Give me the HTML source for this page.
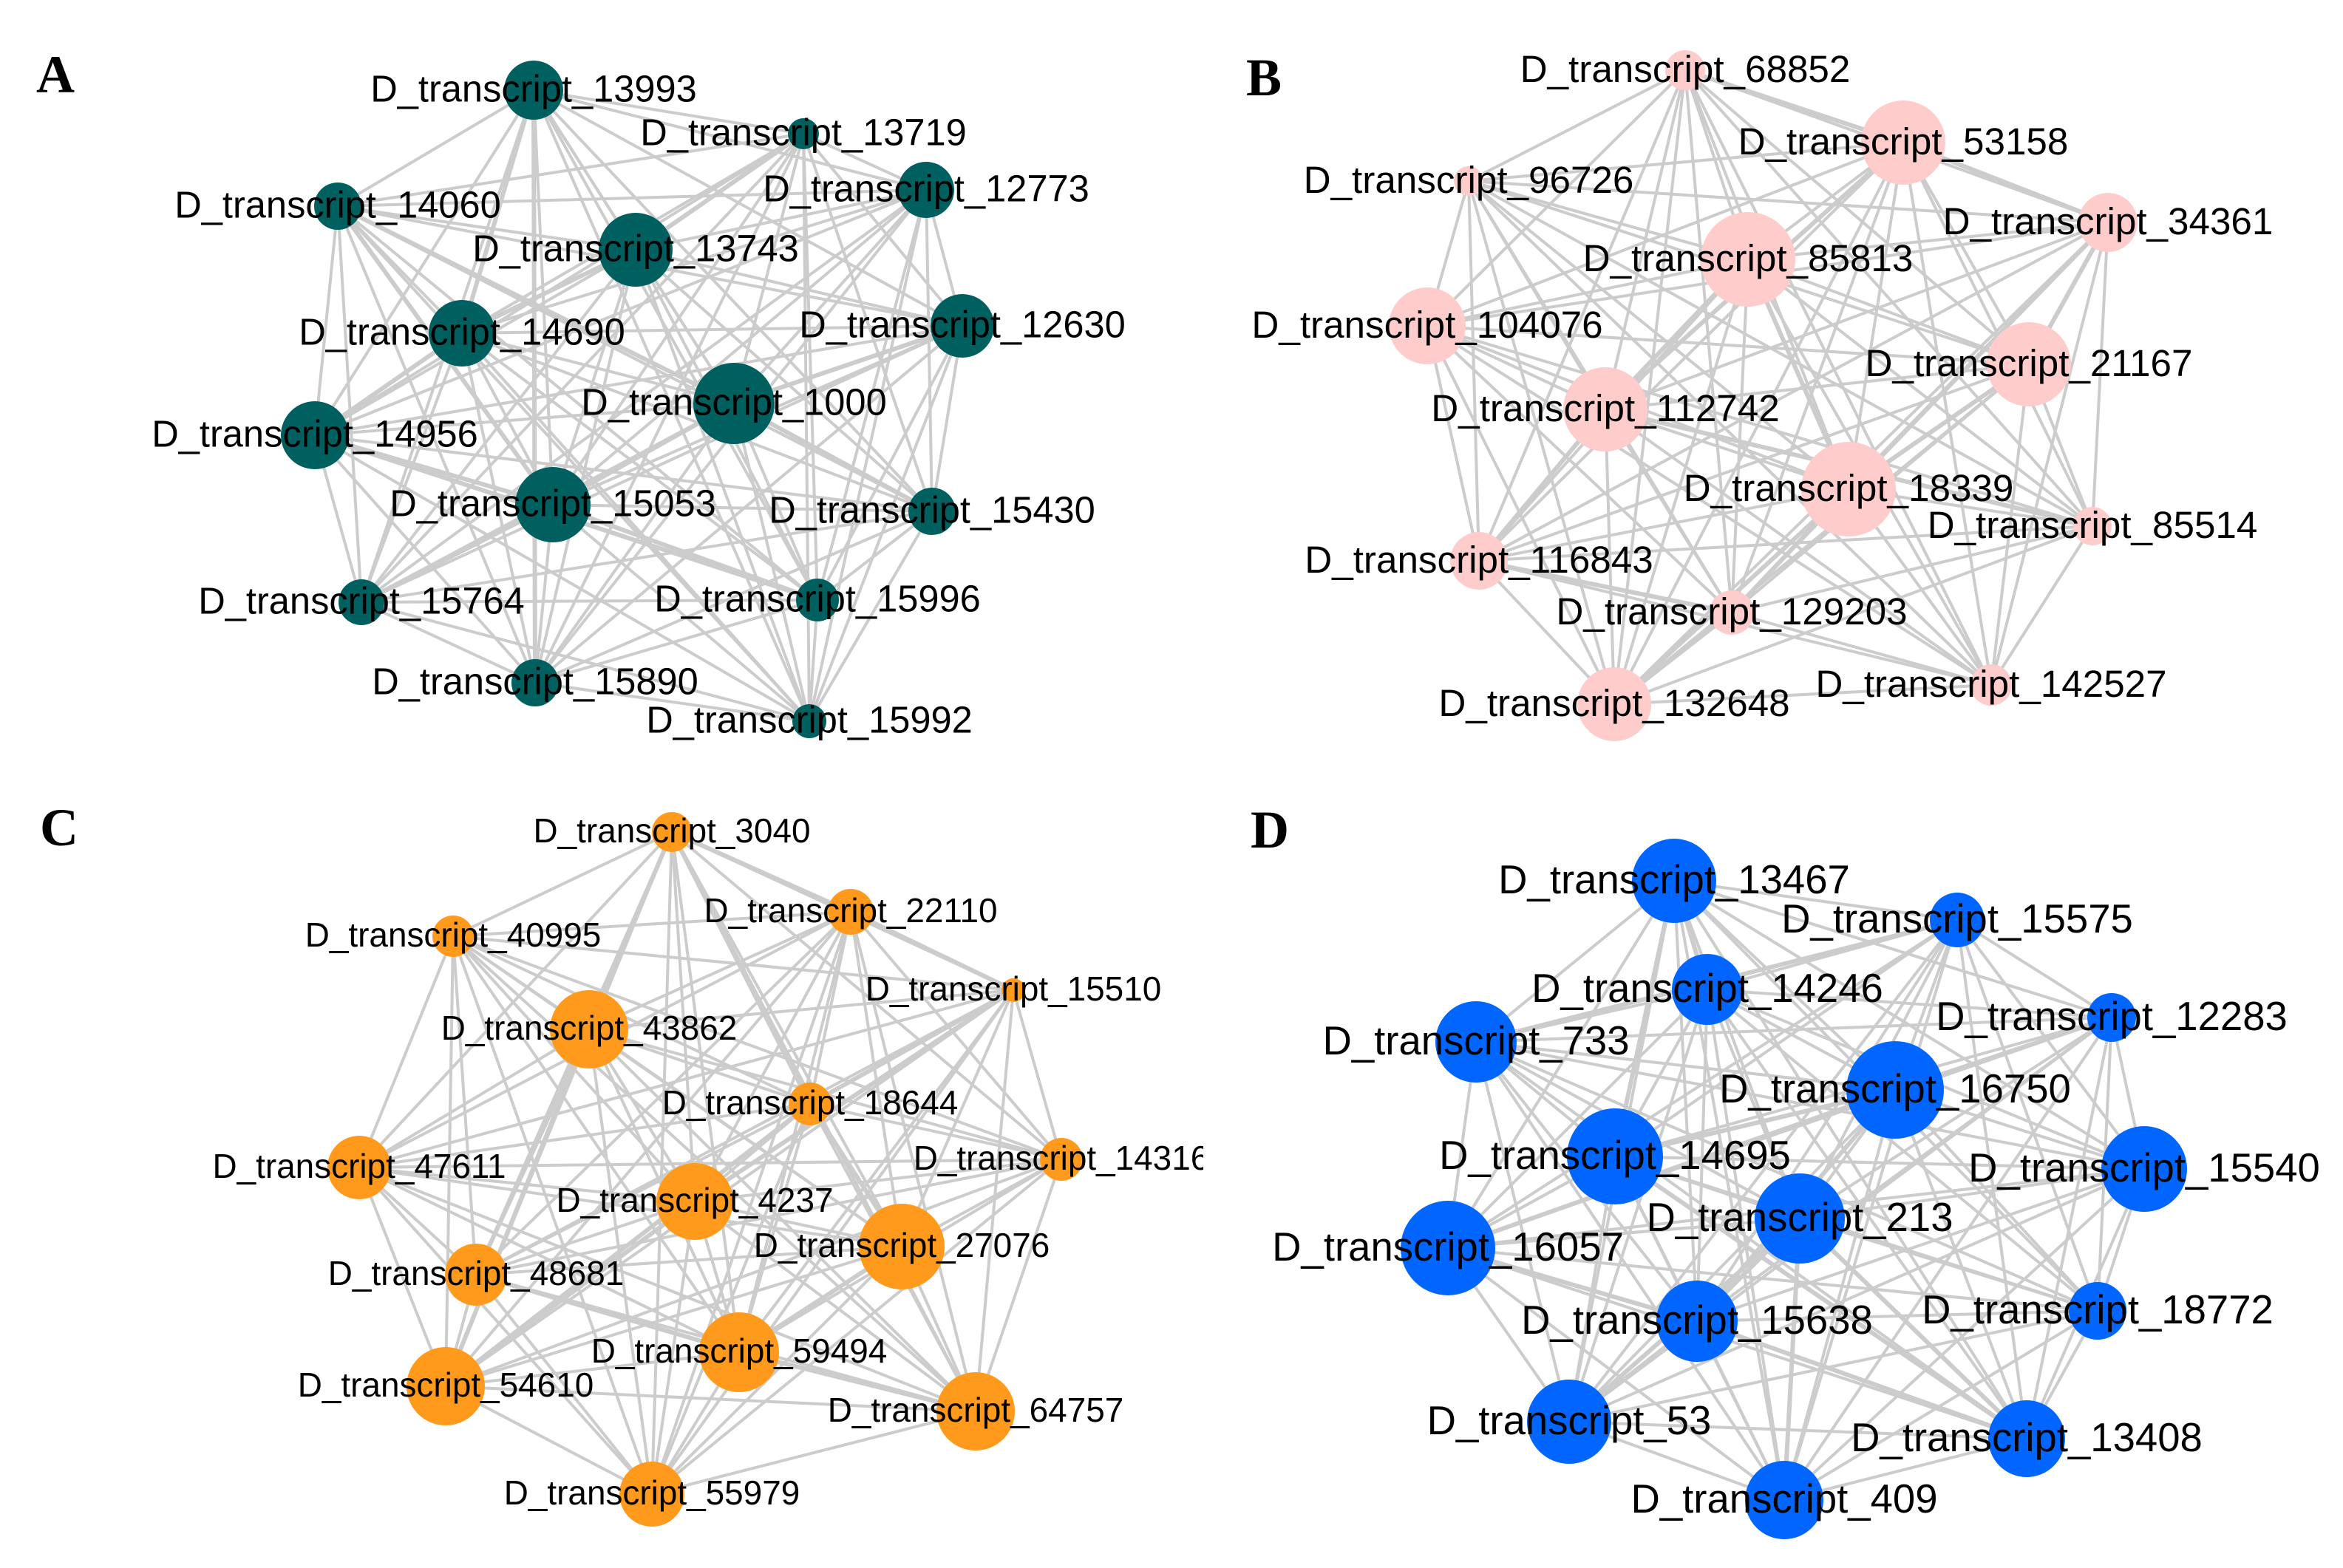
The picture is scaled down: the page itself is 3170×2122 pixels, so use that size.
<!DOCTYPE html>
<html lang="en">
<head>
<meta charset="utf-8">
<title>Transcript co-expression networks</title>
<style>
html,body{margin:0;padding:0;background:#fff;}
#figure{display:block;width:3170px;height:2122px;background:#fff;}
.node-label{font-family:"Liberation Sans",Arial,sans-serif;fill:#000;text-anchor:middle;}
.panel-letter{font-family:"Liberation Serif","Times New Roman",serif;font-weight:bold;font-size:72px;fill:#000;}
</style>
</head>
<body>
<svg id="figure" xmlns="http://www.w3.org/2000/svg" width="3170" height="2122" viewBox="0 0 3170 2122">
  <defs>
    <clipPath id="clip-c"><rect x="0" y="1061" width="1628" height="1061"></rect></clipPath>
  </defs>
  <text class="panel-letter" x="49" y="125">A</text>
  <text class="panel-letter" x="1686" y="129">B</text>
  <text class="panel-letter" x="54" y="1144">C</text>
  <text class="panel-letter" x="1692" y="1147">D</text>
</svg>
<script>
/* Panel A */
const namesA = ["D_transcript_13993","D_transcript_13719","D_transcript_12773","D_transcript_14060","D_transcript_13743","D_transcript_12630","D_transcript_14690","D_transcript_1000","D_transcript_14956","D_transcript_15053","D_transcript_15430","D_transcript_15764","D_transcript_15996","D_transcript_15890","D_transcript_15992"];
const layoutXA = [722,1087,1253,457,860,1302,625,993,426,748,1261,489,1106,724,1095];
const layoutYA = [122,181,257,279,338,441,451,546,589,683,692,815,812,924,976];
const sizeA = [40,21,38,32,50,43,45,55,46,51,32,31,29,32,23];
const strongA = [[1,4],[0,6],[3,7],[3,9],[6,8],[6,4],[8,9],[8,12],[9,11],[9,7],[7,5],[7,10],[9,12],[0,13]];

/* Panel B */
const namesB = ["D_transcript_68852","D_transcript_53158","D_transcript_96726","D_transcript_34361","D_transcript_85813","D_transcript_104076","D_transcript_21167","D_transcript_112742","D_transcript_18339","D_transcript_85514","D_transcript_116843","D_transcript_129203","D_transcript_132648","D_transcript_142527"];
const layoutXB = [695,990,402,1267,780,346,1160,587,916,1246,416,758,599,1109];
const layoutYB = [95,193,245,301,351,441,493,554,662,712,759,829,953,927];
const sizeB = [27,57,20,40,64,52,57,57,64,26,39,30,50,28];
const strongB = [[0,1],[1,3],[3,6],[3,8],[6,8],[4,7],[7,10],[8,11],[8,12],[11,12],[7,9],[4,8],[1,7],[10,11]];

/* Panel C */
const namesC = ["D_transcript_3040","D_transcript_22110","D_transcript_40995","D_transcript_15510","D_transcript_43862","D_transcript_18644","D_transcript_47611","D_transcript_14316","D_transcript_4237","D_transcript_27076","D_transcript_48681","D_transcript_59494","D_transcript_54610","D_transcript_64757","D_transcript_55979"];
const layoutXC = [909,1151,613,1371,797,1096,486,1436,940,1220,644,1000,603,1320,882];
const layoutYC = [65,173,206,279,332,433,519,508,565,626,664,769,815,849,961];
const sizeC = [27,31,28,16,53,29,43,29,52,58,42,54,53,53,44];
const strongC = [[0,1],[0,4],[0,5],[1,3],[3,8],[3,5],[5,9],[4,12],[4,10],[10,11],[12,8],[11,13],[9,11],[12,5]];

/* Panel D */
const namesD = ["D_transcript_13467","D_transcript_15575","D_transcript_14246","D_transcript_733","D_transcript_12283","D_transcript_16750","D_transcript_14695","D_transcript_15540","D_transcript_213","D_transcript_16057","D_transcript_18772","D_transcript_15638","D_transcript_53","D_transcript_13408","D_transcript_409"];
const layoutXD = [680,1063,725,412,1272,979,600,1316,850,374,1253,711,538,1157,829];
const layoutYD = [131,184,278,349,316,414,504,521,588,628,713,727,863,886,969];
const sizeD = [57,37,48,55,33,66,65,58,61,64,39,55,57,52,53];
const strongD = [[1,3],[4,5],[5,6],[5,9],[0,6],[0,2],[9,11],[11,8],[11,5],[8,13],[11,13],[14,8],[12,8],[6,13]];

const SVG_NS = "http://www.w3.org/2000/svg";
const figure = document.getElementById("figure");

function xAxis(originX, v) { return originX + v; }
function yAxis(originY, v) { return originY + v; }
function edgeWidth(strong) { return strong ? 6 : 4; }

function drawPanel(key, names, xs, ys, sizes, strong, originX, originY, color, fontSize, clipId) {
  const group = document.createElementNS(SVG_NS, "g");
  
  
  if (clipId) group.setAttribute("clip-path", "url(#" + clipId + ")");
  figure.appendChild(group);

  const strongSet = new Set(strong.map(function (p) { return Math.min(p[0], p[1]) + "-" + Math.max(p[0], p[1]); }));
  for (let i = 0; i < names.length; i++) {
    for (let j = i + 1; j < names.length; j++) {
      const line = document.createElementNS(SVG_NS, "line");
      
      
      line.setAttribute("x1", xAxis(originX, xs[i]));
      line.setAttribute("y1", yAxis(originY, ys[i]));
      line.setAttribute("x2", xAxis(originX, xs[j]));
      line.setAttribute("y2", yAxis(originY, ys[j]));
      line.setAttribute("stroke", "#cccccc");
      line.setAttribute("stroke-width", edgeWidth(strongSet.has(i + "-" + j)));
      group.appendChild(line);
    }
  }
  names.forEach(function (name, i) {
    const node = document.createElementNS(SVG_NS, "circle");
    
    
    node.setAttribute("cx", xAxis(originX, xs[i]));
    node.setAttribute("cy", yAxis(originY, ys[i]));
    node.setAttribute("r", sizes[i]);
    node.setAttribute("fill", color);
    group.appendChild(node);
  });
  names.forEach(function (name, i) {
    const label = document.createElementNS(SVG_NS, "text");
    
    
    label.setAttribute("class", "node-label");
    label.setAttribute("x", xAxis(originX, xs[i]));
    label.setAttribute("y", yAxis(originY, ys[i]) + fontSize * 0.35 - 2);
    label.setAttribute("font-size", fontSize);
    label.textContent = name;
    group.appendChild(label);
  });
}

drawPanel("a", namesA, layoutXA, layoutYA, sizeA, strongA, 0, 0, "#00605f", 50.6, null);
drawPanel("b", namesB, layoutXB, layoutYB, sizeB, strongB, 1585, 0, "#ffcccc", 51.2, null);
drawPanel("c", namesC, layoutXC, layoutYC, sizeC, strongC, 0, 1061, "#ff9a1c", 45.9, "clip-c");
drawPanel("d", namesD, layoutXD, layoutYD, sizeD, strongD, 1585, 1061, "#0066ff", 54.5, null);
</script>
</body>
</html>
